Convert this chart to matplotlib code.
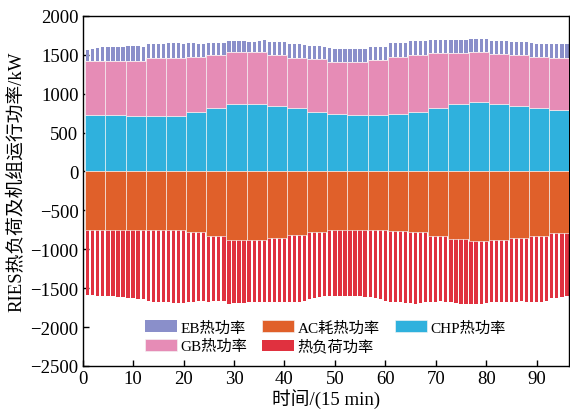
import matplotlib
matplotlib.use("Agg")
import matplotlib.pyplot as plt
import numpy as np

plt.rcParams['font.family'] = ['Liberation Serif', 'Noto Sans CJK SC']

# hourly unit outputs (kW), 24 hours
chp_h = [725, 725, 715, 715, 715, 766, 815, 869, 869, 843, 810, 766,
         741, 724, 724, 733, 766, 814, 861, 895, 861, 835, 810, 784]
gb_h = [690, 697, 707, 745, 745, 707, 684, 668, 660, 652, 650, 674,
        660, 677, 702, 736, 733, 707, 660, 634, 642, 660, 659, 676]
ac_h = [750, 750, 750, 750, 750, 776, 827, 883, 879, 862, 819, 780,
        750, 750, 750, 767, 784, 827, 870, 896, 875, 853, 832, 793]

# 15 min values (kW), 96 steps: total heat supply (CHP+GB+EB) and total demand (AC+load)
heat_total = [1559, 1572, 1585, 1594, 1594, 1594, 1594, 1594,
              1607, 1607, 1607, 1603, 1632, 1632, 1632, 1632,
              1645, 1645, 1645, 1641, 1649, 1649, 1641, 1632,
              1645, 1645, 1645, 1645, 1678, 1678, 1678, 1678,
              1665, 1665, 1675, 1688, 1665, 1665, 1665, 1658,
              1632, 1632, 1632, 1624, 1615, 1615, 1607, 1598,
              1581, 1572, 1572, 1572, 1572, 1572, 1572, 1572,
              1598, 1598, 1602, 1602, 1649, 1649, 1649, 1649,
              1675, 1675, 1675, 1675, 1688, 1688, 1688, 1688,
              1688, 1688, 1688, 1688, 1697, 1697, 1697, 1697,
              1671, 1671, 1671, 1671, 1658, 1658, 1658, 1658,
              1649, 1641, 1637, 1637, 1641, 1632, 1632, 1632]
heat_demand = [1590, 1590, 1599, 1599, 1607, 1607, 1620, 1620,
               1633, 1633, 1641, 1641, 1663, 1676, 1684, 1684,
               1684, 1693, 1693, 1693, 1684, 1676, 1663, 1663,
               1676, 1663, 1663, 1663, 1706, 1697, 1697, 1697,
               1684, 1684, 1684, 1684, 1684, 1684, 1684, 1684,
               1676, 1676, 1676, 1663, 1641, 1633, 1620, 1607,
               1603, 1603, 1599, 1599, 1599, 1599, 1607, 1616,
               1620, 1633, 1641, 1663, 1684, 1684, 1684, 1693,
               1693, 1701, 1693, 1684, 1676, 1676, 1671, 1684,
               1684, 1693, 1701, 1701, 1701, 1706, 1706, 1693,
               1684, 1684, 1684, 1676, 1676, 1676, 1667, 1676,
               1684, 1684, 1676, 1663, 1633, 1633, 1620, 1607]

c_eb = '#8a8fca'
c_gb = '#e68cb6'
c_chp = '#2fb1dd'
c_ac = '#e0602a'
c_load = '#e0313f'


def main():
    chp = np.array(chp_h)
    gb = np.array(gb_h)
    ac = np.array(ac_h)
    total = np.array(heat_total)
    demand = np.array(heat_demand)

    t = np.arange(1, 97)
    th = np.arange(24) * 4 + 2.5
    base_eb = np.repeat(chp + gb, 4)
    eb = total - base_eb
    base_load = np.repeat(ac, 4)
    load = demand - base_load

    fig = plt.figure(figsize=(5.7, 4.1), dpi=100)
    ax = fig.add_axes([0.145, 0.105, 0.854, 0.854])

    # 15 min bars
    ax.bar(t, eb, width=0.65, bottom=base_eb, color=c_eb, zorder=2, label='EB热功率')
    ax.bar(t, -load, width=0.65, bottom=-base_load, color=c_load, zorder=2, label='热负荷功率')
    # hourly bars
    ax.bar(th, chp, width=4, color=c_chp, edgecolor='#f4f4f4', linewidth=0.45, zorder=3, label='CHP热功率')
    ax.bar(th, gb, width=4, bottom=chp, color=c_gb, edgecolor='#f4f4f4', linewidth=0.45, zorder=3, label='GB热功率')
    ax.bar(th, -ac, width=4, color=c_ac, edgecolor='#f4f4f4', linewidth=0.45, zorder=3, label='AC耗热功率')

    ax.set_xlim(0, 96.5)
    ax.set_ylim(-2500, 2000)
    ax.set_xticks(np.arange(0, 91, 10))
    ax.set_yticks(np.arange(-2500, 2001, 500))
    ax.tick_params(direction='in', labelsize=13.5, length=4, width=1, pad=3)
    for s in ax.spines.values():
        s.set_linewidth(1)

    ax.set_xlabel('时间/(15 min)', fontsize=13.5, labelpad=1)
    ax.set_ylabel('RIES热负荷及机组运行功率/kW', fontsize=13.5)
    ax.yaxis.set_label_coords(-0.118, 0.53)

    h, l = ax.get_legend_handles_labels()
    order = ['EB热功率', 'GB热功率', 'AC耗热功率', '热负荷功率', 'CHP热功率']
    hd = {lab: hh for hh, lab in zip(h, l)}
    ax.legend([hd[o] for o in order], order, ncol=3, loc='lower left',
              bbox_to_anchor=(0.128, 0.035), frameon=False, fontsize=11,
              borderpad=0, borderaxespad=0, handlelength=2.1, handleheight=0.8,
              handletextpad=0.2, labelspacing=0.3, columnspacing=1.0)

    fig.savefig('out.png', dpi=100)


if __name__ == "__main__":
    main()
